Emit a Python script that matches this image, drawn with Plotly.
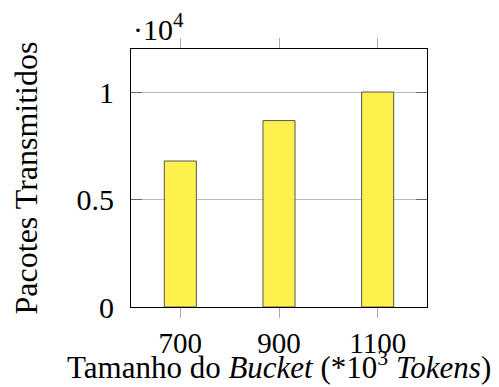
import plotly.graph_objects as go

categories = [700, 900, 1100]
values = [6790, 8670, 10000]
ytick_vals = [0, 5000, 10000]
ytick_text = ["0", "0.5", "1"]

font_family = "Liberation Serif"

fig = go.Figure()
fig.add_trace(go.Bar(
    x=categories, y=values, width=65,
    marker=dict(color="#fff14d", line=dict(color="#555555", width=1)),
))

fig.update_layout(
    width=499, height=387,
    margin=dict(l=123, r=80, t=41, b=88),
    plot_bgcolor="white", paper_bgcolor="white",
    showlegend=False,
    font=dict(family=font_family, size=30, color="black"),
)
fig.update_xaxes(
    range=[600, 1200], tickvals=categories, ticktext=[str(c) for c in categories],
    ticks="outside", ticklen=10, tickcolor="#aaaaaa", tickwidth=1,
    showline=True, linecolor="black", linewidth=1, mirror="ticks",
    showgrid=False, zeroline=False, automargin=False,
    tickfont=dict(size=29, family=font_family),
)
fig.update_yaxes(
    range=[0, 12000], tickvals=ytick_vals, ticktext=ytick_text,
    ticks="inside", ticklen=11, tickcolor="#666666", tickwidth=1,
    showline=True, linecolor="black", linewidth=1, mirror="ticks",
    showgrid=True, gridcolor="#bbbbbb", gridwidth=1, zeroline=False,
    automargin=False, ticklabelstandoff=10,
    tickfont=dict(size=30, family=font_family),
    title=dict(text="Pacotes Transmitidos", font=dict(size=32, family=font_family), standoff=43),
)
fig.add_annotation(
    text="Tamanho do <i>Bucket</i> (*10<sup>3</sup> <i>Tokens</i>)",
    xref="paper", yref="paper", x=0.5, y=0,
    xanchor="center", yanchor="top", showarrow=False,
    font=dict(size=31, family=font_family), yshift=-37,
)
fig.add_annotation(
    text="·10<sup>4</sup>", xref="paper", yref="paper", x=0, y=1,
    xanchor="left", yanchor="bottom", showarrow=False,
    font=dict(size=30, family=font_family), yshift=1, xshift=0,
)
fig.write_html("out.html")
